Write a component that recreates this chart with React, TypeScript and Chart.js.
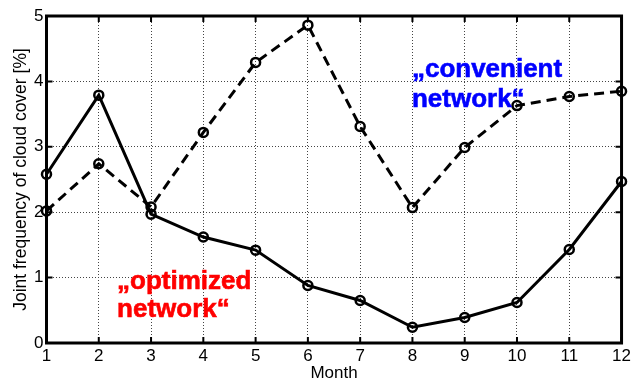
import React, { useEffect, useRef } from "react";
import { Chart, registerables } from "chart.js";

Chart.register(...registerables);

const months = [1, 2, 3, 4, 5, 6, 7, 8, 9, 10, 11, 12];
const optimizedNetwork = [2.58, 3.79, 1.97, 1.62, 1.42, 0.88, 0.65, 0.24, 0.39, 0.62, 1.43, 2.47];
const convenientNetwork = [2.02, 2.74, 2.08, 3.22, 4.29, 4.86, 3.31, 2.07, 2.99, 3.63, 3.77, 3.85];
const yTickValues = [0, 1, 2, 3, 4, 5];
const xAxisTitle = "Month";
const yAxisTitle = "Joint frequency of cloud cover [%]";
const convenientLabel = ["\u201Econvenient", "network\u201C"];
const optimizedLabel = ["\u201Eoptimized", "network\u201C"];

const FONT = "'Liberation Sans', Arial, Helvetica, sans-serif";

const framePlugin = {
  id: "frameTicks",
  beforeDatasetsDraw(chart: any) {
    const { ctx, chartArea, scales } = chart;
    const { left, right, top, bottom } = chartArea;
    ctx.save();
    ctx.strokeStyle = "#000";
    ctx.lineWidth = 2;
    const tl = 6;
    ctx.beginPath();
    months.forEach((m) => {
      const x = scales.x.getPixelForValue(m);
      ctx.moveTo(x, bottom);
      ctx.lineTo(x, bottom - tl);
      ctx.moveTo(x, top);
      ctx.lineTo(x, top + tl);
    });
    yTickValues.forEach((v) => {
      const y = scales.y.getPixelForValue(v);
      ctx.moveTo(left, y);
      ctx.lineTo(left + tl, y);
      ctx.moveTo(right, y);
      ctx.lineTo(right - tl, y);
    });
    ctx.stroke();
    ctx.lineWidth = 3;
    ctx.strokeRect(left, top, right - left, bottom - top);
    ctx.restore();
  },
  afterDatasetsDraw(chart: any) {
    const { ctx, scales } = chart;
    ctx.save();
    ctx.font = `bold 26px ${FONT}`;
    ctx.textBaseline = "alphabetic";
    ctx.textAlign = "left";
    const drawLabel = (lines: string[], xv: number, yv: number, color: string, lh: number) => {
      const x = scales.x.getPixelForValue(xv);
      const y = scales.y.getPixelForValue(yv);
      ctx.fillStyle = color;
      ctx.strokeStyle = color;
      ctx.lineWidth = 0.6;
      lines.forEach((t, i) => {
        ctx.fillText(t, x, y + i * lh);
        ctx.strokeText(t, x, y + i * lh);
      });
    };
    drawLabel(convenientLabel, 7.99, 4.07, "#0000ff", 30);
    drawLabel(optimizedLabel, 2.35, 0.82, "#ff0000", 28);
    ctx.restore();
  },
};

export default function App() {
  const ref = useRef<HTMLCanvasElement>(null);

  useEffect(() => {
    document.body.style.margin = "0";
    const canvas = ref.current;
    if (!canvas) return;
    const chart = new Chart(canvas, {
      type: "line",
      data: {
        datasets: [
          {
            label: "optimized network",
            data: months.map((m, i) => ({ x: m, y: optimizedNetwork[i] })),
            borderColor: "#000",
            borderWidth: 3,
            pointRadius: 4.5,
            pointBorderWidth: 2.5,
            pointBorderColor: "#000",
            pointBackgroundColor: "rgba(0,0,0,0)",
            fill: false,
            tension: 0,
            clip: false as any,
          },
          {
            label: "convenient network",
            data: months.map((m, i) => ({ x: m, y: convenientNetwork[i] })),
            borderColor: "#000",
            borderWidth: 3,
            borderDash: [10, 6],
            pointRadius: 4.5,
            pointBorderWidth: 2.5,
            pointBorderColor: "#000",
            pointBackgroundColor: "rgba(0,0,0,0)",
            fill: false,
            tension: 0,
            clip: false as any,
          },
        ],
      },
      options: {
        animation: false,
        responsive: false,
        devicePixelRatio: 1,
        layout: { padding: { left: 0, right: 9, top: 16, bottom: 0 } },
        plugins: { legend: { display: false }, tooltip: { enabled: false } },
        scales: {
          x: {
            type: "linear",
            min: 1,
            max: 12,
            afterFit: (s: any) => {
              s.height = 37;
            },
            ticks: {
              stepSize: 1,
              autoSkip: false,
              padding: 3,
              color: "#000",
              font: { family: FONT, size: 17 },
            },
            grid: {
              drawTicks: false,
              color: "#444",
              lineWidth: 1,
            },
            border: { display: false, dash: [1, 2] },
            title: {
              display: true,
              text: xAxisTitle,
              color: "#000",
              font: { family: FONT, size: 17, lineHeight: 0.75 },
              padding: { top: 0, bottom: 0 },
            },
          },
          y: {
            type: "linear",
            min: 0,
            max: 5,
            afterFit: (s: any) => {
              s.width = 46.5;
            },
            ticks: {
              stepSize: 1,
              padding: 3,
              color: "#000",
              font: { family: FONT, size: 17 },
            },
            grid: {
              drawTicks: false,
              color: "#444",
              lineWidth: 1,
            },
            border: { display: false, dash: [1, 2] },
            title: {
              display: true,
              text: yAxisTitle,
              color: "#000",
              font: { family: FONT, size: 17.5, lineHeight: 1 },
              padding: { top: 12, bottom: 0 },
            },
          },
        },
      } as any,
      plugins: [framePlugin],
    });
    return () => chart.destroy();
  }, []);

  return (
    <div style={{ position: "absolute", left: 0, top: 0, width: 634, height: 380, background: "#fff" }}>
      <canvas ref={ref} width={634} height={380} style={{ display: "block" }} />
    </div>
  );
}
